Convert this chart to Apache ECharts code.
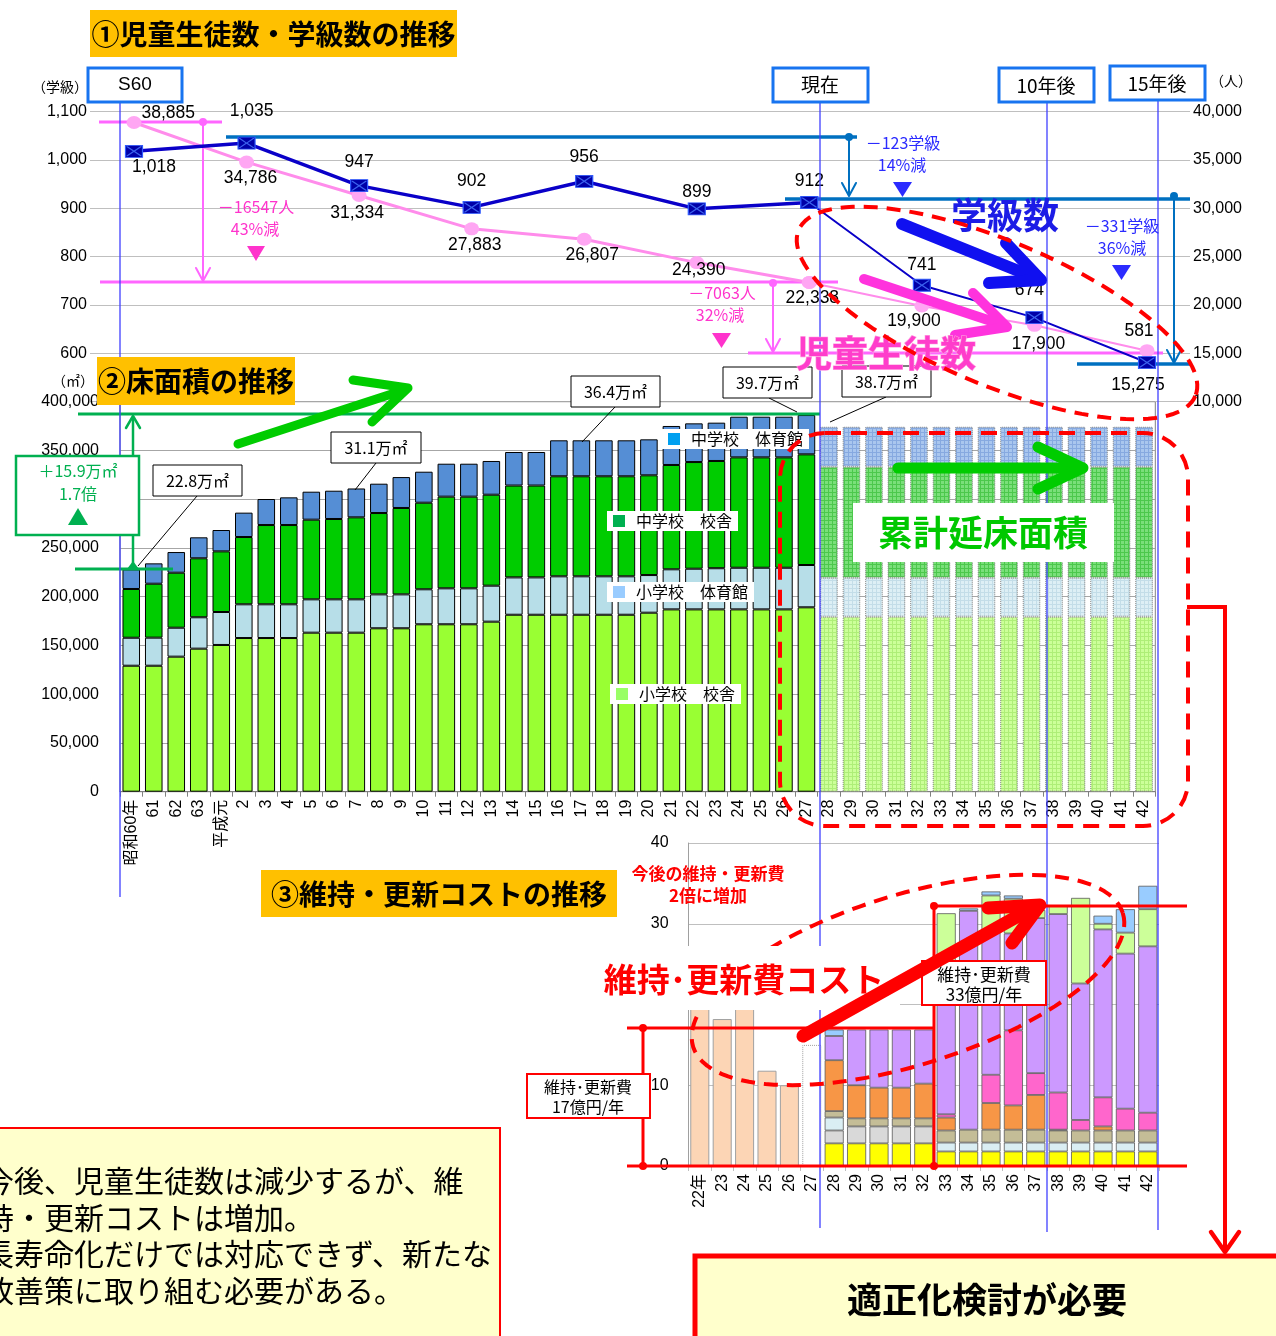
<!DOCTYPE html>
<html><head><meta charset="utf-8">
<script src="https://cdn.jsdelivr.net/npm/echarts@6/dist/echarts.min.js"></script>
<style>html,body{margin:0;padding:0;background:#fff;}#chart{width:1276px;height:1336px;}</style>
</head><body><div id="chart"></div>
<script>
// ===== DATA =====
const lineCategories = ['S60','H2','H7','H12','H17','H22','H27','H32','H37','H42'];
const classCount   = [1018,1035,947,902,956,899,912,741,674,581];
const studentCount = [38885,34786,31334,27883,26807,24390,22338,19900,17900,15275];
const currentIdx = 6;

const areaYears = ['昭和60年','61','62','63','平成元','2','3','4','5','6','7','8','9','10','11','12','13','14','15','16','17','18','19','20','21','22','23','24','25','26','27','28','29','30','31','32','33','34','35','36','37','38','39','40','41','42'];
const areaForecastStart = 31;
const elemSchool = [129200,129200,138500,146700,150500,157600,157600,157600,163100,163100,163100,167600,167600,171700,171700,171700,174400,181500,181500,181500,181500,181500,181500,183600,187000,187000,187000,187000,187000,187000,189100,
  179500,179500,179500,179500,179500,179500,179500,179500,179500,179500,179500,179500,179500,179500,179500];
const elemGym = [28700,28800,29700,32200,33800,34600,34600,34600,34200,34200,34200,34800,34800,35900,36900,36900,36900,38300,38300,39400,39400,39400,39400,38600,41100,41700,42200,42700,42700,42700,43400,
  40000,40000,40000,40000,40000,40000,40000,40000,40000,40000,40000,40000,40000,40000,40000];
const juniorSchool = [50000,55300,56400,60500,62200,69000,81300,81300,81700,82400,84100,83400,88600,88800,94000,94000,93300,94200,94200,102600,102600,102600,102600,102300,107000,109400,110000,113200,113200,113200,113500,
  113800,113800,113800,113800,113800,113800,113800,113800,113800,113800,113800,113800,113800,113800,113800];
const juniorGym = [20100,20900,21200,21500,21900,25000,26700,28400,28700,29000,29600,30100,31700,31800,33800,33800,34600,34400,34400,36900,36900,36900,36900,36900,40000,39700,39300,41700,41700,41700,40300,
  41000,41000,41000,41000,41000,41000,41000,41000,41000,41000,41000,41000,41000,41000,41000];

const costYears = ['22年','23','24','25','26','27','28','29','30','31','32','33','34','35','36','37','38','39','40','41','42'];
const costActual = [23.0,18.2,22.5,11.8,10.0,15.0];   // 22年〜27 (27 = 見込み)
const costPart1 = [2.8,2.8,2.8,2.8,2.8,1.8,1.8,1.8,1.8,1.8,1.8,1.8,1.8,1.8,1.8];
const costPart2 = [1.6,2.1,2.1,2.1,2.1,0,0,0,0,0,0,0,0,0,0];
const costPart3 = [1.6,0,0,0,0,1.1,1.1,1.1,1.1,1.1,1.1,1.1,1.1,1.1,1.1];
const costPart4 = [0.8,1.0,1.0,1.0,1.0,1.5,1.6,1.6,1.6,1.6,1.5,1.5,1.5,1.5,1.5];
const costPart5 = [6.3,4.1,3.8,3.8,4.3,1.6,0,3.3,3.0,4.3,0.1,0,0.5,0,0];
const costPart6 = [0,0,0,0,0,0.4,0,3.5,9.3,2.7,4.6,1.3,3.6,2.7,2.2];
const costPart7 = [3.0,6.9,7.2,7.2,6.7,17.6,27.1,17.7,12.0,19.2,22.1,16.9,20.8,19.2,20.6];
const costPart8 = [0,0,0,0,0,7.3,0,4.5,4.3,1.0,1.1,10.6,0.7,2.6,4.6];
const costPart9 = [0.8,0,0,0,0,0,0.3,0.5,0.4,0,0,0,1.0,2.9,2.9];

// ===== STYLE =====
const JP = "'Noto Sans CJK JP', sans-serif";
const NUM = "'Liberation Sans', 'Noto Sans CJK JP', sans-serif";
const fmt = v => Number(v).toLocaleString('en-US');

function pattern(bg, ln){
  const c=document.createElement('canvas'); c.width=4; c.height=4;
  const x=c.getContext('2d'); x.fillStyle=bg; x.fillRect(0,0,4,4);
  x.fillStyle=ln; x.fillRect(0,0,4,1); x.fillRect(0,0,1,4);
  return {image:c, repeat:'repeat'};
}

const classLabelStyle = [
 {position:'bottom',distance:1,offset:[20,0]},
 {position:'top',distance:17,offset:[5,0]},
 {position:'top',distance:8},
 {position:'top',distance:11},
 {position:'top',distance:9},
 {position:'top',distance:2},
 {position:'top',distance:6},
 {position:'top',distance:5},
 {position:'top',distance:12,offset:[-5,0]},
 {position:'top',distance:16,offset:[-8,0]}
];
const studentLabelStyle = [
 {position:'right',distance:0,offset:[0,-9]},
 {position:'bottom',distance:1,offset:[4,0]},
 {position:'bottom',distance:2,offset:[-2,0]},
 {position:'bottom',distance:1,offset:[3,0]},
 {position:'bottom',distance:1,offset:[8,0]},
 {position:'bottom',distance:-8,offset:[2,0]},
 {position:'bottom',distance:0,offset:[3,0]},
 {position:'bottom',distance:0,offset:[-8,0]},
 {position:'bottom',distance:4,offset:[4,0]},
 {position:'bottom',distance:19,offset:[-9,0]}
];

function linePts(vals, styles, from, to, skipLabelIdx){
  const out=[];
  for(let i=from;i<=to;i++){
    const lab=Object.assign({show:i!==skipLabelIdx}, styles[i]);
    out.push({value:[i, vals[i]], label:lab});
  }
  return out;
}

const labelBase = {show:true, color:'#000', fontSize:17.5, fontFamily:NUM, formatter:p=>fmt(p.value[1])};
const BLUE_LINE='#0A00C8', PINK_LINE='#FF8CEB';
const xPath='path://M0,0L1.5,0L10,6.4L18.5,0L20,0L20,1.1L11.5,7.5L20,13.9L20,15L18.5,15L10,8.6L1.5,15L0,15L0,13.9L8.5,7.5L0,1.1Z';

const series = [
 {name:'児童生徒数', type:'line', xAxisIndex:0, yAxisIndex:1, z:10,
  data: linePts(studentCount, studentLabelStyle, 0, currentIdx, -1),
  lineStyle:{color:PINK_LINE,width:3}, symbol:'circle', symbolSize:[15,13], itemStyle:{color:'#FFA6F3'}, label:labelBase},
 {name:'児童生徒数（推計）', type:'line', xAxisIndex:0, yAxisIndex:1, z:10,
  data: linePts(studentCount, studentLabelStyle, currentIdx, lineCategories.length-1, currentIdx),
  lineStyle:{color:PINK_LINE,width:2}, symbol:'circle', symbolSize:[15,13], itemStyle:{color:'#FFA6F3'}, label:labelBase},
 {name:'学級数', type:'line', xAxisIndex:0, yAxisIndex:0, z:11,
  data: linePts(classCount, classLabelStyle, 0, currentIdx, -1),
  lineStyle:{color:BLUE_LINE,width:3.5}, symbol:'rect', symbolSize:[17,12], itemStyle:{color:'#0000A8',borderColor:'#2F5BFF',borderWidth:1}, label:labelBase},
 {name:'学級数（推計）', type:'line', xAxisIndex:0, yAxisIndex:0, z:11,
  data: linePts(classCount, classLabelStyle, currentIdx, lineCategories.length-1, currentIdx),
  lineStyle:{color:BLUE_LINE,width:2}, symbol:'rect', symbolSize:[17,12], itemStyle:{color:'#0000A8',borderColor:'#2F5BFF',borderWidth:1}, label:labelBase},
 {name:'学級数マーカー', type:'scatter', xAxisIndex:0, yAxisIndex:0, z:12, silent:true,
  data: lineCategories.map((c,i)=>[i,classCount[i]]), symbol:xPath, symbolSize:[15,10], itemStyle:{color:'#4A7BFF'}}
];

const areaDefs = [
 {name:'小学校　校舎',  data:elemSchool,  color:'#99FF33', fc:pattern('#CCFF99','#AEEE77')},
 {name:'小学校　体育館', data:elemGym,     color:'#B7DEE8', fc:pattern('#DDEFF5','#C3DDE8')},
 {name:'中学校　校舎',  data:juniorSchool,color:'#00CC00', fc:pattern('#7ADF7A','#4CC84C')},
 {name:'中学校　体育館', data:juniorGym,   color:'#558ED5', fc:pattern('#A9C6EE','#86A9E0')}
];
areaDefs.forEach(d=>{
  series.push({name:d.name, type:'bar', xAxisIndex:1, yAxisIndex:2, stack:'area', barCategoryGap:'22%', z:2,
    itemStyle:{color:d.color, borderColor:'#000', borderWidth:1},
    data:d.data.map((v,i)=> i>=areaForecastStart ? {value:v, itemStyle:{color:d.fc, borderColor:'#808080', borderType:'dotted', borderWidth:1}} : v)});
});

const pad = Array(costActual.length).fill('-');
series.push({name:'実績', type:'bar', xAxisIndex:2, yAxisIndex:3, stack:'cost', barCategoryGap:'15%', z:2,
  itemStyle:{color:'#FCD5B5', borderColor:'#A0A0A0', borderWidth:1},
  data: costYears.map((y,i)=> i<costActual.length ? (i===costActual.length-1 ? {value:costActual[i], itemStyle:{color:'#fff',borderColor:'#A0A0A0',borderType:'dotted'}} : costActual[i]) : '-')});
const costDefs = [
 ['内訳1',costPart1,'#FFFF00'],['内訳2',costPart2,'#D9D9D9'],['内訳3',costPart3,'#DAEEF3'],
 ['内訳4',costPart4,'#C4BD97'],['内訳5',costPart5,'#F79646'],['内訳6',costPart6,'#FF66CC'],
 ['内訳7',costPart7,'#CC99FF'],['内訳8',costPart8,'#CCFF99'],['内訳9',costPart9,'#99CCFF']
];
costDefs.forEach(([n,arr,c])=>{
  series.push({name:n, type:'bar', xAxisIndex:2, yAxisIndex:3, stack:'cost', barCategoryGap:'15%', z:2,
    itemStyle:{color:c, borderColor:'#595959', borderWidth:0.8},
    data: pad.concat(arr.map(v=> v===0 ? '-' : v))});
});

// ===== GRAPHICS (annotations) =====
const G=[];
const rect=(x,y,w,h,style,z=40,r=0)=>G.push({type:'rect',shape:{x,y,width:w,height:h,r},style,z,silent:true});
const line=(x1,y1,x2,y2,stroke,w,z=20)=>G.push({type:'line',shape:{x1,y1,x2,y2},style:{stroke,lineWidth:w},z,silent:true});
const poly=(pts,stroke,w,z=20,extra={})=>G.push({type:'polyline',shape:{points:pts},style:Object.assign({stroke,lineWidth:w,fill:null,lineCap:'round',lineJoin:'round'},extra),z,silent:true});
const tri=(pts,fill,z=20)=>G.push({type:'polygon',shape:{points:pts},style:{fill},z,silent:true});
const dot=(cx,cy,r,fill,z=20)=>G.push({type:'circle',shape:{cx,cy,r},style:{fill},z,silent:true});
const text=(x,y,t,size,color='#000',o={})=>G.push({type:'text',x,y,z:o.z||42,silent:true,
  style:{text:t,fill:color,font:`${o.weight||'normal'} ${size}px ${o.family||JP}`,textAlign:o.align||'center',align:o.align||'center',textVerticalAlign:'middle',verticalAlign:'middle',stroke:o.stroke||null,lineWidth:o.lw||0}});
function ellipse(cx,cy,a,b,deg,n=120){const t=deg*Math.PI/180,p=[];for(let k=0;k<=n;k++){const th=2*Math.PI*k/n,x=a*Math.cos(th),y=b*Math.sin(th);p.push([cx+x*Math.cos(t)-y*Math.sin(t),cy+x*Math.sin(t)+y*Math.cos(t)]);}return p;}

// titles
rect(90,10,367,47,{fill:'#FFC000'},50); text(273.5,34,'①児童生徒数・学級数の推移',28,'#000',{weight:'bold',z:51});
rect(97,357,198,48,{fill:'#FFC000'},50); text(196,381,'②床面積の推移',28,'#000',{weight:'bold',z:51});
rect(261,870,356,47,{fill:'#FFC000'},50); text(439,894,'③維持・更新コストの推移',28,'#000',{weight:'bold',z:51});
// unit labels
text(60,87,'（学級）',14); text(1231,81,'（人）',14); text(73,381,'（㎡）',14);
// time boxes
const BOX='#1874F0';
rect(88,68,94,34,{fill:'#fff',stroke:BOX,lineWidth:3},40); text(135,85,'S60',19,'#000',{family:NUM});
rect(773,68,95,34,{fill:'#fff',stroke:BOX,lineWidth:3},40); text(820,85,'現在',19);
rect(999,68,95,34,{fill:'#fff',stroke:BOX,lineWidth:3},40); text(1046,86,'10年後',19);
rect(1110,66,95,34,{fill:'#fff',stroke:BOX,lineWidth:3},40); text(1157,84,'15年後',19);
// vertical time lines
const VL='#4040FF';
line(120,102,120,897,VL,1.3,30); line(820,102,820,1228,VL,1.3,30); line(1047,102,1047,1232,VL,1.3,30); line(1158,100,1158,1230,VL,1.3,30);

// pink annotations
const PK='#FF66FF', PKT='#FF33CC';
line(99,122,222,122,PK,3,5); dot(203,122,4,PK,5); line(203,122,203,280,PK,2,5); poly([[196,268],[203,281],[210,268]],PK,2,5);
line(100,282,838,282,PK,3,5);
dot(773,283,4,PK,5); line(773,283,773,351,PK,2,5); poly([[766,339],[773,352],[780,339]],PK,2,5);
line(748,353,1163,353,PK,3,5);
text(256,207,'－16547人',16,PKT); text(255,229,'43%減',16,PKT); tri([[247,246],[265,246],[256,261]],PKT);
text(722,293,'－7063人',16,PKT); text(720,315,'32%減',16,PKT); tri([[712,333],[731,333],[721.5,348]],PKT);
// blue annotations
const BL='#0070C0', BLT='#2B2BFF';
line(226,137,857,137,BL,3.5,5); dot(849,137,4,BL,5); line(849,137,849,195,BL,2,5); poly([[842,183],[849,196],[856,183]],BL,2,5);
line(785,199,1190,199,BL,3.5,5); dot(1174,196,4,BL,5); line(1174,196,1174,362,BL,2,5); poly([[1167,350],[1174,363],[1181,350]],BL,2,5);
line(1077,364,1192,364,BL,3.5,5);
text(903,143,'－123学級',16,BLT); text(902,165,'14%減',16,BLT); tri([[893,182],[912,182],[902.5,197]],BLT);
text(1122,226,'－331学級',16,BLT); text(1122,248,'36%減',16,BLT); tri([[1112,265],[1131,265],[1121.5,280]],BLT);
// big labels & arrows (top)
poly([[902,224],[1036,278]],'#1010F0',12,44); poly([[1006,243],[1041,280],[989,283]],'#1010F0',12,44);
poly([[864,279],[1003,325]],'#FF33DD',10,44); poly([[973,293],[1007,327],[955,335]],'#FF33DD',10,44);
text(1005,215,'学級数',36,'#1C1CE6',{weight:'bold',z:45});
text(886,353,'児童生徒数',36,'#FF3DCB',{weight:'bold',z:45,stroke:'#FF9BE0',lw:1.2});
poly(ellipse(997,313,215,72,22.7),'#FF0000',4,46,{lineDash:[14,9],lineCap:'butt'});

// floor-area annotations
const GR='#00B050';
line(78,414,820,414,GR,3,20); line(75,569,173,569,GR,3,20);
line(133,417,133,566,GR,2.5,20); poly([[126,428],[133,416],[140,428]],GR,2.5,20); tri([[127,569],[139,569],[133,561]],GR,20);
rect(16,456,123,79,{fill:'#fff',stroke:GR,lineWidth:2.5},40);
text(78,471,'＋15.9万㎡',16,GR); text(78,494,'1.7倍',16,GR); tri([[68,525],[88,525],[78,508]],GR,42);
poly([[238,444],[404,390]],'#00CC00',9,44); poly([[353,380],[408,388],[372,422]],'#00CC00',9,44);
poly([[898,468],[1080,468]],'#00CC00',11,44); poly([[1038,447],[1083,468],[1038,489]],'#00CC00',11,44);
rect(853,503,261,59,{fill:'#fff'},40); text(983,533,'累計延床面積',35,'#00C800',{weight:'bold'});
const callout=(x,y,w,t,lx1,ly1,lx2,ly2)=>{rect(x,y,w,31,{fill:'#fff',stroke:'#000',lineWidth:1},40); text(x+w/2,y+16,t,16); line(lx1,ly1,lx2,ly2,'#000',1,39);};
callout(153,465,89,'22.8万㎡',197,496,138,566);
callout(331,432,90,'31.1万㎡',376,463,355,490);
callout(571,376,89,'36.4万㎡',615,407,582,442);
callout(723,367,89,'39.7万㎡',769,398,797,412);
callout(842,366,89,'38.7万㎡',886,397,830,422);
rect(780,433,408,393,{fill:null,stroke:'#FF0000',lineWidth:4,lineDash:[16,10]},46,45);

// cost annotations
const R='#FF0000';
text(708,874,'今後の維持・更新費',17,R,{weight:'bold'}); text(708,896,'2倍に増加',17,R,{weight:'bold'});
poly(ellipse(908,980,225,85,-17.3),R,4,36,{lineDash:[14,9],lineCap:'butt'});
rect(598,946,302,64,{fill:'#fff'},40); text(744,979,'維持･更新費コスト',33,R,{weight:'bold'});
line(627,1028,934,1028,R,3,38); line(934,906,1187,906,R,3,38); line(627,1166,1187,1166,R,3,38);
line(643,1028,643,1166,R,3,38); dot(643,1028,4,R,38); dot(643,1166,4,R,38);
line(934,906,934,1166,R,3,38); dot(934,906,4,R,38); dot(934,1166,4,R,38);
rect(527,1074,123,44,{fill:'#fff',stroke:R,lineWidth:2},40); text(588,1087,'維持･更新費',16); text(588,1107,'17億円/年',16);
rect(922,961,124,44,{fill:'#fff',stroke:R,lineWidth:2},40); text(984,975,'維持･更新費',17); text(984,995,'33億円/年',17);
poly([[803,1036],[1036,906]],R,13,45); poly([[988,908],[1040,905],[1012,943]],R,13,45);
poly([[1187,607],[1225,607],[1225,1250]],R,4,45,{lineCap:'butt',lineJoin:'miter'}); poly([[1211,1232],[1225,1252],[1239,1232]],R,4.5,45);

// conclusion boxes
rect(-5,1128,505,220,{fill:'#FFFFCC',stroke:R,lineWidth:2},50);
['今後、児童生徒数は減少するが、維','持・更新コストは増加。','長寿命化だけでは対応できず、新たな','改善策に取り組む必要がある。']
  .forEach((t,i)=>text(-16,1181+i*36.5,t,30,'#000',{align:'left',z:51}));
rect(695,1256,600,100,{fill:'#FFFFCC',stroke:R,lineWidth:5},50);
text(987,1300,'適正化検討が必要',35,'#000',{weight:'bold',z:51});

// ===== OPTION =====
const legendBase = {orient:'horizontal', selectedMode:false, backgroundColor:'#fff', padding:[2,6,2,6], itemWidth:12, itemHeight:12, icon:'rect',
  textStyle:{fontSize:16, fontFamily:JP, color:'#000', padding:[0,0,0,6]}, z:20};
const lg=(name,color,left,top)=>Object.assign({}, legendBase, {left, top, data:[{name, itemStyle:{color, borderWidth:0}}]});

const option = {
  animation:false,
  backgroundColor:'#fff',
  textStyle:{fontFamily:NUM},
  grid:[
    {left:90, top:111.7, width:1100, height:290, outerBoundsMode:'none'},
    {left:120, top:401.7, width:1035.3, height:390, show:true, borderColor:'#808080', borderWidth:1, backgroundColor:'transparent', outerBoundsMode:'none'},
    {left:688.6, top:843, width:470.4, height:323, outerBoundsMode:'none'}
  ],
  xAxis:[
    {gridIndex:0, type:'value', min:-0.3909, max:9.382, show:false},
    {gridIndex:1, type:'category', data:areaYears, axisLine:{lineStyle:{color:'#808080'}},
     axisTick:{show:true, length:5, interval:0, lineStyle:{color:'#808080'}},
     axisLabel:{interval:0, rotate:90, margin:8, fontSize:16, color:'#000', fontFamily:NUM}},
    {gridIndex:2, type:'category', data:costYears, axisLine:{lineStyle:{color:'#808080'}},
     axisTick:{show:true, length:5, interval:0, lineStyle:{color:'#BFBFBF'}},
     axisLabel:{interval:0, rotate:90, margin:8, fontSize:16, color:'#000', fontFamily:NUM}}
  ],
  yAxis:[
    {gridIndex:0, type:'value', min:500, max:1100, interval:100, position:'left',
     axisLine:{show:false}, axisTick:{show:false},
     axisLabel:{margin:3, fontSize:16, color:'#000', formatter:v=> v<600 ? '' : fmt(v)},
     splitLine:{show:true, lineStyle:{color:'#BFBFBF'}}},
    {gridIndex:0, type:'value', min:10000, max:40000, interval:5000, position:'right',
     axisLine:{show:false}, axisTick:{show:false}, splitLine:{show:false},
     axisLabel:{margin:3, fontSize:16, color:'#000', formatter:v=>fmt(v)}},
    {gridIndex:1, type:'value', min:0, max:400000, interval:50000,
     axisLine:{show:false}, axisTick:{show:false},
     axisLabel:{margin:21, fontSize:16, color:'#000', formatter:v=>fmt(v)},
     splitLine:{show:true, lineStyle:{color:'#A6A6A6'}}},
    {gridIndex:2, type:'value', min:0, max:40, interval:10,
     axisLine:{show:true, lineStyle:{color:'#A0A0A0'}}, axisTick:{show:false},
     axisLabel:{margin:20, fontSize:16, color:'#000'},
     splitLine:{show:true, lineStyle:{color:'#BFBFBF'}}}
  ],
  legend:[
    lg('中学校　体育館','#00A0F0',662,429),
    lg('中学校　校舎','#00B050',607,511),
    lg('小学校　体育館','#99CCFF',607,582),
    lg('小学校　校舎','#99FF66',610,684)
  ],
  series,
  graphic:{elements:G}
};
const chart = echarts.init(document.getElementById('chart'), null, {renderer:'canvas', width:1276, height:1336});
chart.setOption(option);
</script>
</body></html>
